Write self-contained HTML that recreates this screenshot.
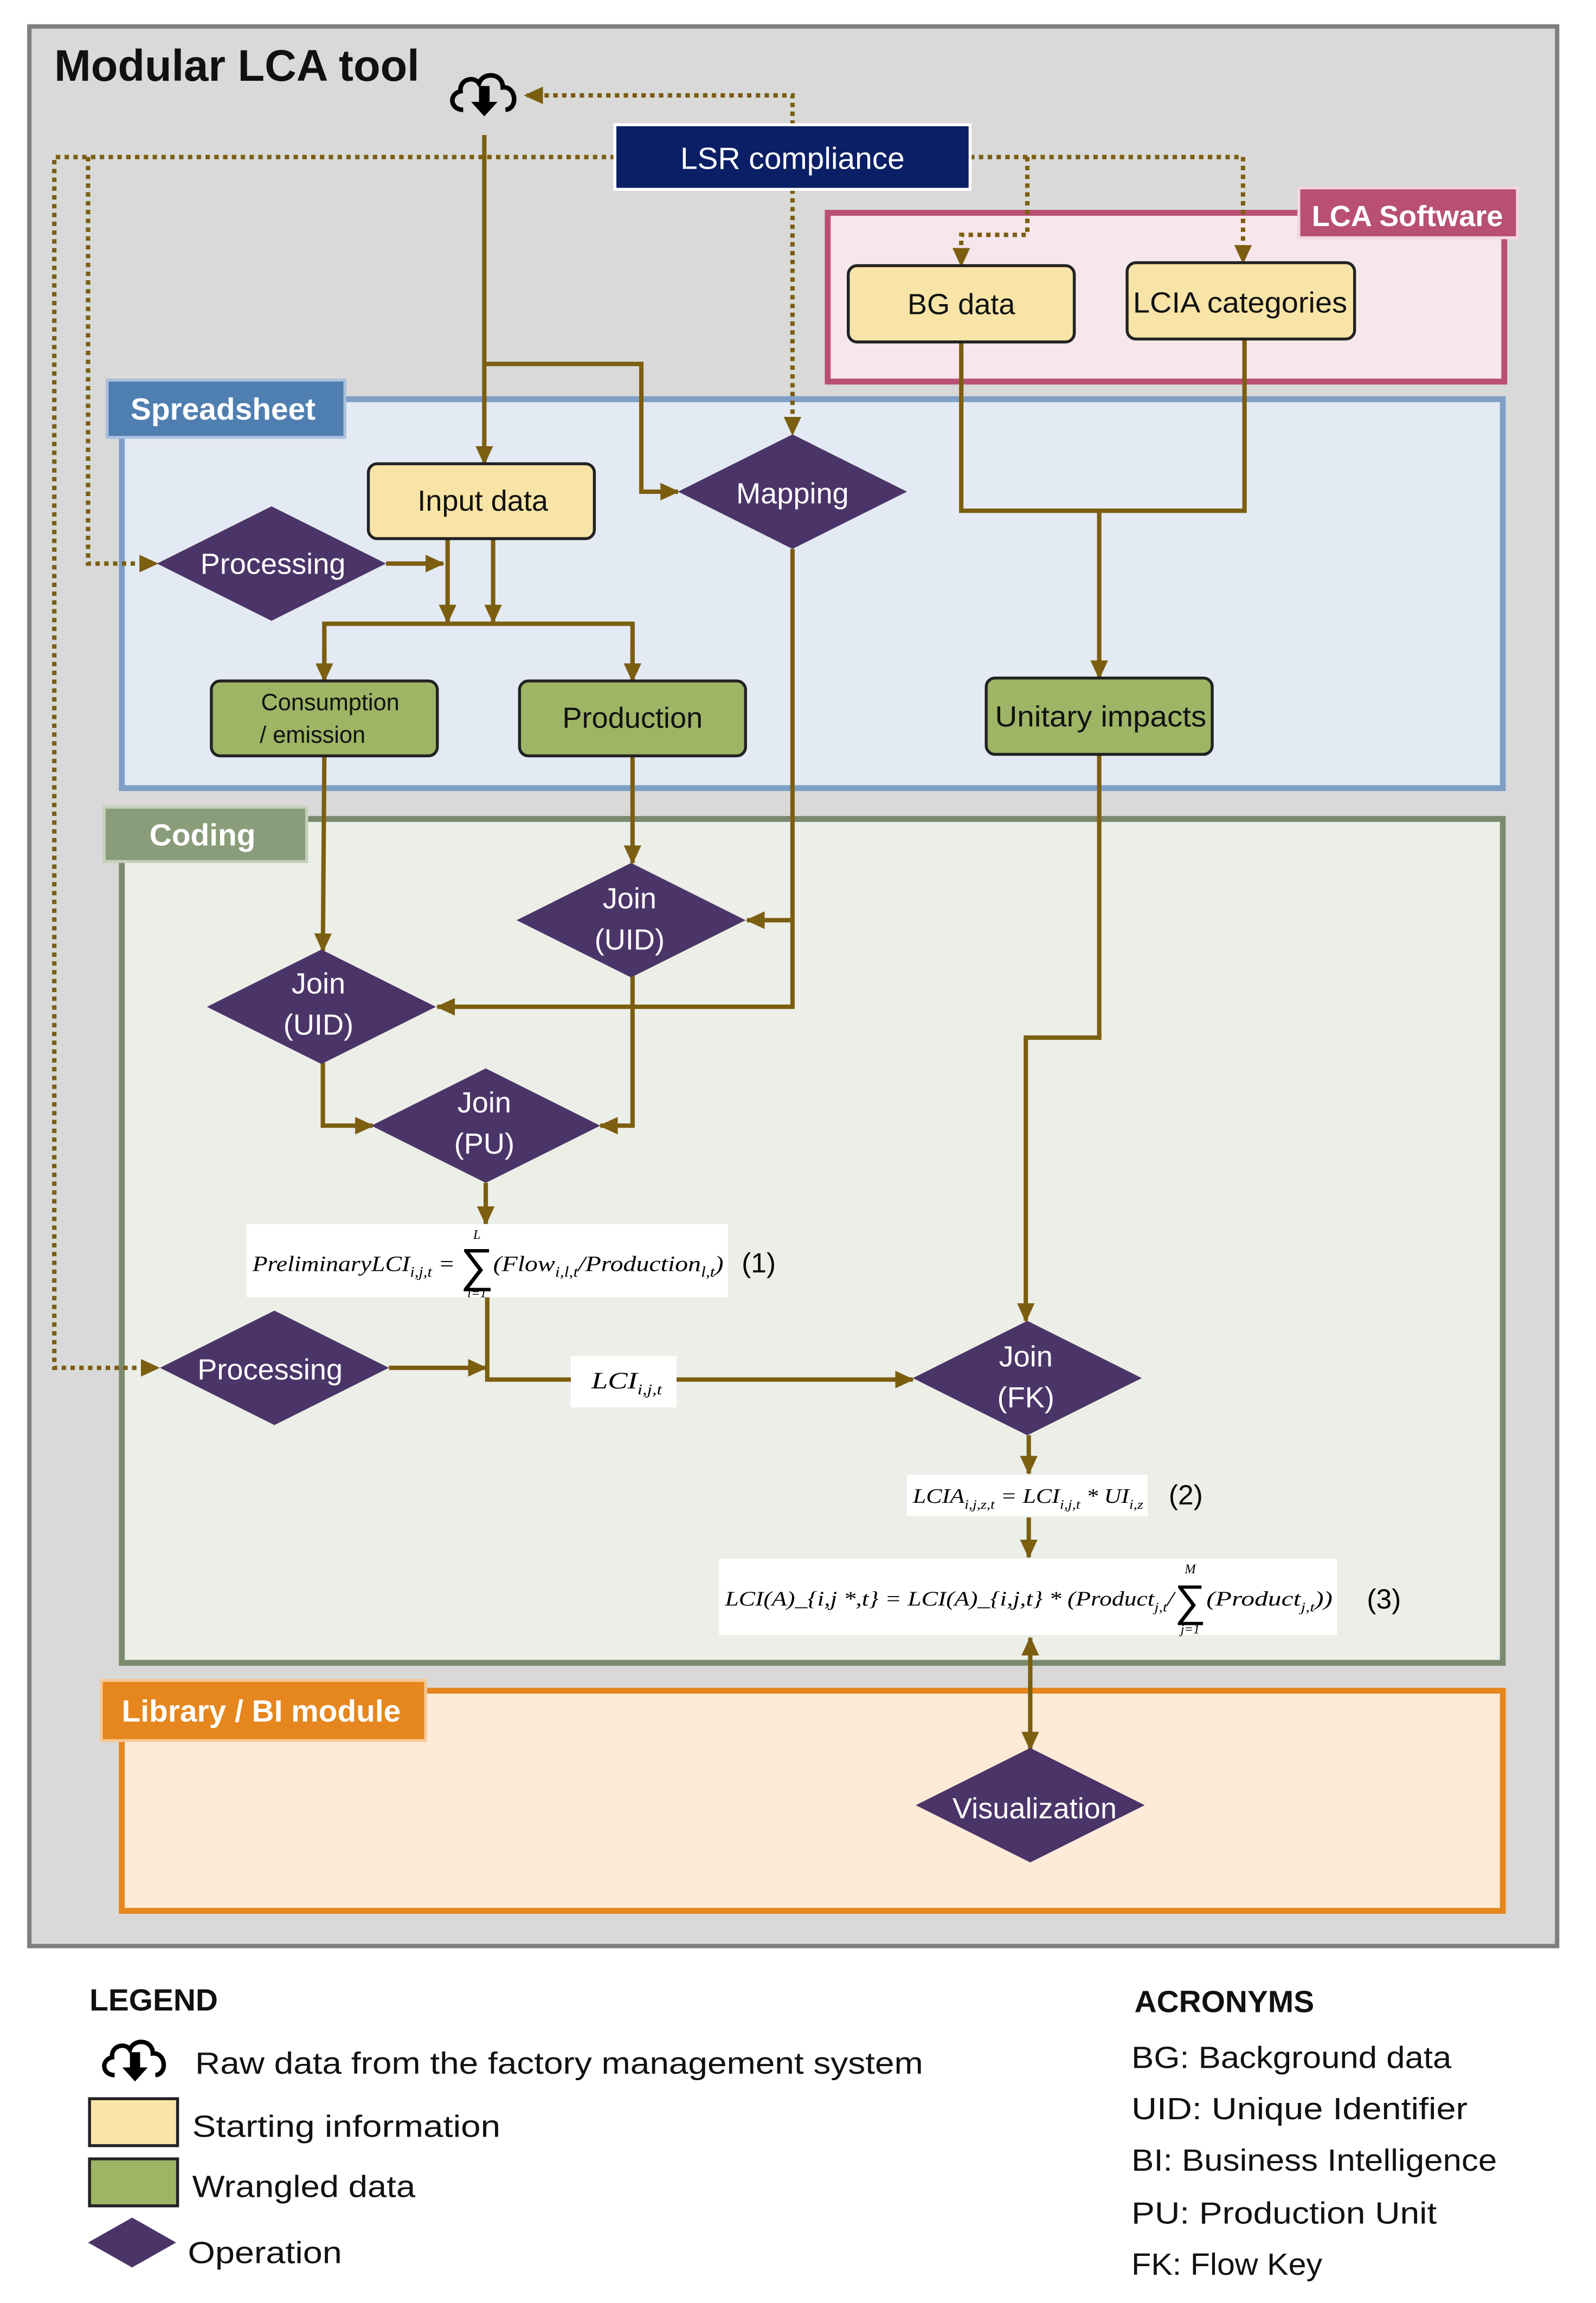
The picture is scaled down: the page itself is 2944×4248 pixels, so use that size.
<!DOCTYPE html>
<html><head><meta charset="utf-8"><style>
html,body{margin:0;padding:0;background:#fff;}
svg{display:block;}
text{font-family:"Liberation Sans",sans-serif;}
.m{font-family:"Liberation Serif",serif;font-style:italic;}
</style></head><body>
<svg width="2944" height="4248" viewBox="0 0 1087.5 1569.2" xmlns="http://www.w3.org/2000/svg">
<defs>
<marker id="a" markerUnits="userSpaceOnUse" markerWidth="14" markerHeight="12" refX="12" refY="6" orient="auto"><path d="M0,0 L13,6 L0,12 z" fill="#7b5e10"/></marker>
<marker id="s" markerUnits="userSpaceOnUse" markerWidth="14" markerHeight="12" refX="1" refY="6" orient="auto"><path d="M13,0 L0,6 L13,12 z" fill="#7b5e10"/></marker>
<symbol id="cloud" viewBox="0 0 60 40"><path d="M14,32 C4,32 3,20 12,18 C11,9 22,6 26,12 C29,3 44,4 44,15 C54,14 56,31 46,32" fill="none" stroke="#000" stroke-width="3.5"/><path d="M26,14 h8 v12 h6 l-10,11 l-10,-11 h6 z" fill="#000"/></symbol>
</defs>
<rect x="0" y="0" width="1087.5" height="1569.2" fill="#fff"/>
<rect x="20" y="18" width="1041" height="1308" fill="#d9d9d9" stroke="#7f7f7f" stroke-width="3"/>
<text x="37" y="55" font-size="30" font-weight="bold" fill="#111">Modular LCA tool</text>
<use href="#cloud" x="303" y="46" width="54" height="36"/>

<rect x="564" y="145" width="461" height="115" fill="#f7e6ec" stroke="#b94f75" stroke-width="4"/>
<rect x="885" y="128" width="149" height="34" fill="#b94f75" stroke="#f2d7e0" stroke-width="2"/>
<text x="959" y="154" font-size="20" font-weight="bold" fill="#fff" text-anchor="middle">LCA Software</text>
<rect x="83" y="272" width="941" height="265" fill="#e4eaf3" stroke="#7f9fc6" stroke-width="4"/>
<rect x="73" y="259" width="162" height="39" fill="#4f7fb1" stroke="#a9c0dc" stroke-width="2"/>
<text x="152" y="286" font-size="21" font-weight="bold" fill="#fff" text-anchor="middle">Spreadsheet</text>
<rect x="83" y="558" width="941" height="575" fill="#eceee8" stroke="#7b8a6f" stroke-width="4"/>
<rect x="71" y="550" width="138" height="37" fill="#8a9d7a" stroke="#c5d0bc" stroke-width="2"/>
<text x="138" y="576" font-size="21" font-weight="bold" fill="#fff" text-anchor="middle">Coding</text>
<rect x="83" y="1152" width="941" height="150" fill="#fdebd8" stroke="#e5861e" stroke-width="4"/>
<rect x="69" y="1145" width="221" height="41" fill="#e5861e" stroke="#f7c996" stroke-width="2"/>
<text x="178" y="1173" font-size="21" font-weight="bold" fill="#fff" text-anchor="middle">Library / BI module</text>

<g fill="none" stroke="#7b5e10" stroke-width="3">
<path d="M330,92 V316" marker-end="url(#a)"/>
<path d="M330,248 H437 V335 H462" marker-end="url(#a)"/>
<path d="M263,384 H302" marker-end="url(#a)"/>
<path d="M305,367 V424" marker-end="url(#a)"/>
<path d="M336,367 V424" marker-end="url(#a)"/>
<path d="M221,464 V425 H431 V464" />
<path d="M221,440 V464" marker-end="url(#a)"/>
<path d="M431,440 V464" marker-end="url(#a)"/>
<path d="M655,233 V348 H848 V231"/>
<path d="M749,348 V462" marker-end="url(#a)"/>
<path d="M431,515 V588" marker-end="url(#a)"/>
<path d="M540,374 V686 H298" marker-end="url(#a)"/>
<path d="M540,627 H509" marker-end="url(#a)"/>
<path d="M221,515 L220,648" marker-end="url(#a)"/>
<path d="M220,724 V767 H254" marker-end="url(#a)"/>
<path d="M431,664 V767 H409" marker-end="url(#a)"/>
<path d="M331,806 V834" marker-end="url(#a)"/>
<path d="M332,884 V940 H389"/>
<path d="M265,932 H331" marker-end="url(#a)"/>
<path d="M461,940 H622" marker-end="url(#a)"/>
<path d="M749,514 V707 H699 V900" marker-end="url(#a)"/>
<path d="M701,978 V1004" marker-end="url(#a)"/>
<path d="M701,1034 V1061" marker-end="url(#a)"/>
<path d="M702,1116 V1192" marker-end="url(#a)" marker-start="url(#s)"/>
</g>
<g fill="none" stroke="#7b5e10" stroke-width="3" stroke-dasharray="3,3">
<path d="M540,85 V65 H358" marker-end="url(#a)"/>
<path d="M419,107 H37 V932 H108" marker-end="url(#a)"/>
<path d="M60,107 V384 H107" marker-end="url(#a)"/>
<path d="M661,107 H847 V179" marker-end="url(#a)"/>
<path d="M700,107 V160 H655 V181" marker-end="url(#a)"/>
<path d="M540,129 V296" marker-end="url(#a)"/>
</g>

<rect x="419" y="85" width="242" height="44" fill="#0b1f66" stroke="#fff" stroke-width="2"/>
<text x="540" y="115" font-size="21" fill="#fff" text-anchor="middle">LSR compliance</text>

<g stroke="#222" stroke-width="2" fill="#f7e4a6">
<rect x="578" y="181" width="154" height="52" rx="6"/>
<rect x="768" y="179" width="155" height="52" rx="6"/>
<rect x="251" y="316" width="154" height="51" rx="6"/>
</g>
<g fill="#9db565" stroke="#222" stroke-width="2">
<rect x="144" y="464" width="154" height="51" rx="6"/>
<rect x="354" y="464" width="154" height="51" rx="6"/>
<rect x="672" y="462" width="154" height="52" rx="6"/>
</g>
<g font-size="20" fill="#111" text-anchor="middle">
<text x="655" y="214">BG data</text>
<text x="845" y="213" textLength="146" lengthAdjust="spacingAndGlyphs">LCIA categories</text>
<text x="329" y="348">Input data</text>
<text x="225" y="484" font-size="16">Consumption</text>
<text x="213" y="506" font-size="16">/ emission</text>
<text x="431" y="496">Production</text>
<text x="750" y="495" textLength="144" lengthAdjust="spacingAndGlyphs">Unitary impacts</text>
</g>

<g fill="#4b3568">
<path d="M107,384 L185,345 L263,384 L185,423 z"/>
<path d="M462,335 L540,296 L618,335 L540,374 z"/>
<path d="M352,627 L430,588 L508,627 L430,666 z"/>
<path d="M141,686 L219,647 L297,686 L219,725 z"/>
<path d="M253,767 L331,728 L409,767 L331,806 z"/>
<path d="M109,932 L187,893 L265,932 L187,971 z"/>
<path d="M622,939 L700,900 L778,939 L700,978 z"/>
<path d="M624,1230 L702,1191 L780,1230 L702,1269 z"/>
<path d="M60,1528 L90,1511 L120,1528 L90,1545 z"/>
</g>
<g font-size="20" fill="#fff" text-anchor="middle">
<text x="186" y="391">Processing</text>
<text x="540" y="343">Mapping</text>
<text x="429" y="619">Join</text><text x="429" y="647">(UID)</text>
<text x="217" y="677">Join</text><text x="217" y="705">(UID)</text>
<text x="330" y="758">Join</text><text x="330" y="786">(PU)</text>
<text x="184" y="940">Processing</text>
<text x="699" y="931">Join</text><text x="699" y="959">(FK)</text>
<text x="705" y="1239">Visualization</text>
</g>

<rect x="168" y="834" width="328" height="50" fill="#fff"/>
<text class="m" x="172" y="866" font-size="15" textLength="138" lengthAdjust="spacingAndGlyphs">PreliminaryLCI<tspan font-size="10" dy="4">i,j,t</tspan><tspan dy="-4"> =</tspan></text>
<text x="325" y="873" font-size="32" text-anchor="middle" fill="#000">∑</text>
<text class="m" x="325" y="844" font-size="9" text-anchor="middle">L</text>
<text class="m" x="325" y="884" font-size="9" text-anchor="middle">l=1</text>
<text class="m" x="336" y="866" font-size="15" textLength="157" lengthAdjust="spacingAndGlyphs">(Flow<tspan font-size="10" dy="4">i,l,t</tspan><tspan dy="-4">/Production</tspan><tspan font-size="10" dy="4">l,t</tspan><tspan dy="-4">)</tspan></text>
<text x="517" y="867" font-size="19" text-anchor="middle">(1)</text>
<rect x="389" y="924" width="72" height="35" fill="#fff"/>
<text class="m" x="403" y="946" font-size="16" textLength="48" lengthAdjust="spacingAndGlyphs">LCI<tspan font-size="10" dy="4">i,j,t</tspan></text>
<rect x="618" y="1005" width="164" height="28" fill="#fff"/>
<text class="m" x="622" y="1024" font-size="14" textLength="157" lengthAdjust="spacingAndGlyphs">LCIA<tspan font-size="9" dy="4">i,j,z,t</tspan><tspan dy="-4"> = LCI</tspan><tspan font-size="9" dy="4">i,j,t</tspan><tspan dy="-4"> * UI</tspan><tspan font-size="9" dy="4">i,z</tspan></text>
<text x="808" y="1025" font-size="19" text-anchor="middle">(2)</text>
<rect x="490" y="1062" width="421" height="52" fill="#fff"/>
<text class="m" x="494" y="1094" font-size="14" textLength="306" lengthAdjust="spacingAndGlyphs">LCI(A)_{i,j *,t} = LCI(A)_{i,j,t} * (Product<tspan font-size="9" dy="4">j,t</tspan><tspan dy="-4">/</tspan></text>
<text x="811" y="1101" font-size="30" text-anchor="middle">∑</text>
<text class="m" x="811" y="1072" font-size="9" text-anchor="middle">M</text>
<text class="m" x="811" y="1113" font-size="9" text-anchor="middle">j=1</text>
<text class="m" x="822" y="1094" font-size="14" textLength="86" lengthAdjust="spacingAndGlyphs">(Product<tspan font-size="9" dy="4">j,t</tspan><tspan dy="-4">))</tspan></text>
<text x="943" y="1096" font-size="19" text-anchor="middle">(3)</text>

<text x="61" y="1370" font-size="21" font-weight="bold" fill="#111">LEGEND</text>
<use href="#cloud" x="66" y="1386" width="52" height="35"/>
<text x="133" y="1413" font-size="21" fill="#111" textLength="496" lengthAdjust="spacingAndGlyphs">Raw data from the factory management system</text>
<rect x="61" y="1430" width="60" height="32" fill="#f7e4a6" stroke="#222" stroke-width="2"/>
<text x="131" y="1456" font-size="21" fill="#111" textLength="210" lengthAdjust="spacingAndGlyphs">Starting information</text>
<rect x="61" y="1471" width="60" height="32" fill="#9db565" stroke="#222" stroke-width="2"/>
<text x="131" y="1497" font-size="21" fill="#111" textLength="152" lengthAdjust="spacingAndGlyphs">Wrangled data</text>
<text x="128" y="1542" font-size="21" fill="#111" textLength="105" lengthAdjust="spacingAndGlyphs">Operation</text>
<text x="773" y="1371" font-size="21" font-weight="bold" fill="#111">ACRONYMS</text>
<g font-size="21" fill="#111">
<text x="771" y="1409" textLength="218" lengthAdjust="spacingAndGlyphs">BG: Background data</text>
<text x="771" y="1444" textLength="229" lengthAdjust="spacingAndGlyphs">UID: Unique Identifier</text>
<text x="771" y="1479" textLength="249" lengthAdjust="spacingAndGlyphs">BI: Business Intelligence</text>
<text x="771" y="1515" textLength="208" lengthAdjust="spacingAndGlyphs">PU: Production Unit</text>
<text x="771" y="1550" textLength="130" lengthAdjust="spacingAndGlyphs">FK: Flow Key</text>
</g>
</svg>
</body></html>
